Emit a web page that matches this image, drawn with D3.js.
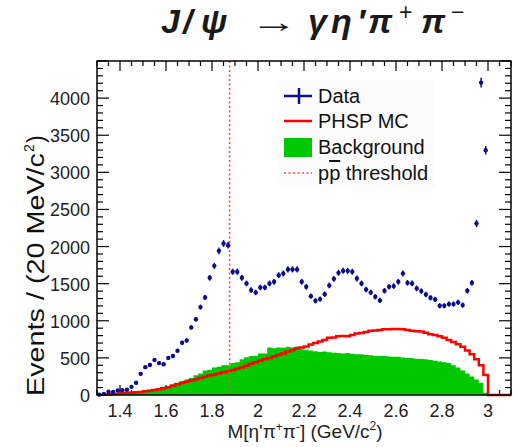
<!DOCTYPE html>
<html>
<head>
<meta charset="utf-8">
<script src="https://cdn.jsdelivr.net/npm/d3@7"></script>
<style>
  body { margin: 0; background: #fff; }
  text { font-family: "Liberation Sans", Arial, sans-serif; }
</style>
</head>
<body>
<svg id="chart"></svg>
<script>
// Chart size
const width = 519;
const height = 447;

// Binning: 20 MeV bins from 1.30 to 3.10 GeV
const binLow = 1.30;
const binWidth = 0.02;

// Data (events per bin, bins 1.31 ... 2.99)
const dataCounts = [
  5, 15, 45, 40, 60, 65, 70, 110, 166, 285,
  375, 405, 473, 430, 415, 500, 525, 597, 704, 735,
  911, 1020, 1184, 1315, 1579, 1740, 1942, 2042, 2019, 1660,
  1660, 1579, 1503, 1413, 1382, 1449, 1449, 1503, 1525, 1615,
  1638, 1692, 1692, 1692, 1525, 1458, 1332, 1269, 1292, 1359,
  1476, 1565, 1646, 1673, 1673, 1660, 1570, 1503, 1422, 1382,
  1323, 1274, 1404, 1458, 1467, 1525, 1638, 1511, 1503, 1436,
  1400, 1355, 1310, 1288, 1202, 1202, 1225, 1225, 1248, 1211,
  1404, 1511, 2311, 4209, 3297
];

// Phase space MC (bins 1.31 ... 3.09)
const phspCounts = [
  2, 5, 8, 12, 16, 22, 28, 32, 36, 42,
  50, 58, 66, 78, 90, 105, 125, 145, 160, 180,
  195, 210, 228, 245, 262, 275, 290, 305, 315, 335,
  355, 372, 395, 420, 440, 460, 482, 500, 520, 540,
  560, 585, 605, 625, 640, 655, 680, 700, 720, 740,
  770, 775, 790, 795, 790, 810, 830, 835, 850, 865,
  870, 875, 885, 885, 890, 890, 885, 875, 865, 860,
  855, 840, 820, 810, 790, 770, 740, 715, 685, 650,
  600, 550, 480, 400, 270, 0, 0, 0, 0, 0
];

// Background (bins 1.31 ... 3.09)
const bkgCounts = [
  0, 0, 5, 15, 25, 40, 45, 40, 35, 55,
  60, 70, 75, 95, 110, 115, 145, 160, 190, 210,
  230, 265, 290, 330, 340, 370, 380, 400, 400, 430,
  440, 480, 510, 525, 530, 560, 560, 640, 630, 640,
  635, 650, 640, 655, 615, 610, 600, 590, 580, 585,
  575, 570, 565, 560, 565, 555, 550, 550, 540, 535,
  530, 525, 525, 520, 515, 515, 505, 500, 500, 490,
  485, 480, 470, 460, 450, 440, 430, 400, 370, 330,
  290, 250, 210, 160, 30, 0, 0, 0, 0, 0
];

// Axis ticks and labels
const xTicks = [1.4, 1.6, 1.8, 2.0, 2.2, 2.4, 2.6, 2.8, 3.0];
const xTickLabels = ["1.4", "1.6", "1.8", "2", "2.2", "2.4", "2.6", "2.8", "3"];
const yTicks = [0, 500, 1000, 1500, 2000, 2500, 3000, 3500, 4000];
const threshold = 2 * 0.938272;

const legendLabels = ["Data", "PHSP MC", "Background", "threshold"];

// Title glyphs: [text, x, size, raised]
const titleGlyphs = [
  ["J", 161, 34, false], ["/", 183, 34, false], ["\u03C8", 201, 34, false],
  ["\u03B3", 308, 34, false], ["\u03B7", 331, 34, false], ["\u2032", 357, 34, false],
  ["\u03C0", 368, 34, false], ["+", 399, 23, true], ["\u03C0", 421, 34, false], ["\u2212", 451, 23, true]
];

// Colors
const blue = "#0c0c8c";
const red = "#ff0000";
const pink = "#ff4a4a";
const green = "#00c800";

const svg = d3.select("#chart")
  .attr("width", width)
  .attr("height", height);

const x = d3.scaleLinear().domain([1.3, 3.1]).range([97, 511]);
const y = d3.scaleLinear().domain([0, 4500]).range([395, 61]);

// Tick marks (drawn first, so the fills cover the bottom ones)
const ticks = svg.append("g").attr("stroke", "#000").attr("stroke-width", 1.2);
const xMinor = d3.range(1.3, 3.1001, 0.05);
xMinor.forEach((v) => {
  const major = xTicks.some((t) => Math.abs(t - v) < 1e-6);
  const len = major ? 10 : 5;
  ticks.append("line").attr("x1", x(v)).attr("x2", x(v)).attr("y1", y.range()[1]).attr("y2", y.range()[1] + len);
  ticks.append("line").attr("x1", x(v)).attr("x2", x(v)).attr("y1", y.range()[0]).attr("y2", y.range()[0] - len);
});
const yMinor = d3.range(0, 4501, 100);
yMinor.forEach((v) => {
  const major = v % 500 === 0;
  const len = major ? 12 : 6;
  ticks.append("line").attr("x1", x.range()[0]).attr("x2", x.range()[0] + len).attr("y1", y(v)).attr("y2", y(v));
  ticks.append("line").attr("x1", x.range()[1]).attr("x2", x.range()[1] - len).attr("y1", y(v)).attr("y2", y(v));
});

// Histogram helpers
const binEdges = (counts) => {
  const pts = counts.map((c, i) => [binLow + i * binWidth, c]);
  pts.push([binLow + counts.length * binWidth, counts[counts.length - 1]]);
  return pts;
};

const area = d3.area()
  .curve(d3.curveStepAfter)
  .x((d) => x(d[0]))
  .y0(y(0))
  .y1((d) => y(d[1]));

const line = d3.line()
  .curve(d3.curveStepAfter)
  .x((d) => x(d[0]))
  .y((d) => y(d[1]));

// Background fill
svg.append("path")
  .datum(binEdges(bkgCounts))
  .attr("d", area)
  .attr("fill", green);

// PHSP MC outline
svg.append("path")
  .datum(binEdges(phspCounts))
  .attr("d", line)
  .attr("fill", "none")
  .attr("stroke", red)
  .attr("stroke-width", 2.5);

// Threshold line
svg.append("line")
  .attr("x1", x(threshold)).attr("x2", x(threshold))
  .attr("y1", y.range()[1]).attr("y2", y.range()[0])
  .attr("stroke", pink)
  .attr("stroke-width", 1.6)
  .attr("stroke-dasharray", "2,2.5");

// Data points with sqrt(N) error bars
const points = dataCounts.map((c, i) => ({ m: binLow + (i + 0.5) * binWidth, n: c }));
const dataG = svg.append("g");
dataG.selectAll("line")
  .data(points)
  .enter().append("line")
  .attr("x1", (d) => x(d.m)).attr("x2", (d) => x(d.m))
  .attr("y1", (d) => y(d.n + Math.sqrt(d.n))).attr("y2", (d) => y(d.n - Math.sqrt(d.n)))
  .attr("stroke", blue)
  .attr("stroke-width", 1.5);
dataG.selectAll("circle")
  .data(points)
  .enter().append("circle")
  .attr("cx", (d) => x(d.m))
  .attr("cy", (d) => y(d.n))
  .attr("r", 2.2)
  .attr("fill", blue);

// Frame
svg.append("rect")
  .attr("x", x.range()[0]).attr("y", y.range()[1])
  .attr("width", x.range()[1] - x.range()[0])
  .attr("height", y.range()[0] - y.range()[1])
  .attr("fill", "none")
  .attr("stroke", "#000")
  .attr("stroke-width", 1.5);

// Tick labels
svg.append("g").selectAll("text")
  .data(xTicks)
  .enter().append("text")
  .attr("x", (d) => x(d))
  .attr("y", 417)
  .attr("text-anchor", "middle")
  .attr("font-size", 18)
  .attr("fill", "#222")
  .text((d, i) => xTickLabels[i]);

svg.append("g").selectAll("text")
  .data(yTicks)
  .enter().append("text")
  .attr("x", 90)
  .attr("y", (d) => y(d) + 7)
  .attr("text-anchor", "end")
  .attr("font-size", 18)
  .attr("fill", "#222")
  .text((d) => d);

// Axis titles
const xTitle = svg.append("text")
  .attr("x", 305)
  .attr("y", 438)
  .attr("text-anchor", "middle")
  .attr("font-size", 19)
  .attr("fill", "#222");
xTitle.append("tspan").text("M[\u03B7'\u03C0");
xTitle.append("tspan").attr("font-size", 12).attr("dy", -7).text("+");
xTitle.append("tspan").attr("dy", 7).text("\u03C0");
xTitle.append("tspan").attr("font-size", 12).attr("dy", -7).text("-");
xTitle.append("tspan").attr("dy", 7).text("] (GeV/c");
xTitle.append("tspan").attr("font-size", 12).attr("dy", -8).text("2");
xTitle.append("tspan").attr("dy", 8).text(")");

const yTitle = svg.append("g").attr("transform", "translate(44,396) rotate(-90)");
yTitle.append("text")
  .attr("x", 0).attr("y", 0)
  .attr("font-size", 23)
  .attr("fill", "#111")
  .attr("textLength", 243)
  .attr("lengthAdjust", "spacingAndGlyphs")
  .text("Events / (20 MeV/c");
yTitle.append("text")
  .attr("x", 244).attr("y", -10)
  .attr("font-size", 14)
  .attr("fill", "#111")
  .text("2");
yTitle.append("text")
  .attr("x", 253).attr("y", 0)
  .attr("font-size", 23)
  .attr("fill", "#111")
  .text(")");

// Title, each glyph placed like the typeset formula
const titleG = svg.append("g")
  .style("font-family", "'DejaVu Serif', 'Liberation Serif', serif")
  .attr("fill", "#1a1a1a");
titleG.selectAll("text.glyph")
  .data(titleGlyphs)
  .enter().append("text")
  .attr("class", "glyph")
  .attr("x", (d) => d[1])
  .attr("y", (d) => (d[3] ? 20 : 33))
  .attr("font-size", (d) => d[2])
  .attr("font-style", (d) => (d[3] ? "normal" : "italic"))
  .attr("font-weight", (d) => (d[3] ? "normal" : "bold"))
  .text((d) => d[0]);
// Long arrow
titleG.append("text")
  .attr("transform", "translate(250,32) scale(1.6,1)")
  .attr("font-size", 30)
  .text("\u2192");

// Legend
const legend = svg.append("g");
legend.append("rect")
  .attr("x", 279).attr("y", 80)
  .attr("width", 156).attr("height", 108)
  .attr("fill", "#fcfcfc");

const rowY = [96, 121, 147, 173];
const symX0 = 284, symX1 = 312;

legend.append("line").attr("x1", symX0).attr("x2", symX1).attr("y1", rowY[0]).attr("y2", rowY[0])
  .attr("stroke", blue).attr("stroke-width", 2.5);
legend.append("line").attr("x1", 299).attr("x2", 299).attr("y1", rowY[0] - 8).attr("y2", rowY[0] + 8)
  .attr("stroke", blue).attr("stroke-width", 2.5);
legend.append("line").attr("x1", symX0).attr("x2", symX1).attr("y1", rowY[1]).attr("y2", rowY[1])
  .attr("stroke", red).attr("stroke-width", 2.5);
legend.append("rect").attr("x", symX0).attr("y", rowY[2] - 9).attr("width", symX1 - symX0).attr("height", 19)
  .attr("fill", green);
legend.append("line").attr("x1", symX0).attr("x2", symX1).attr("y1", rowY[3]).attr("y2", rowY[3])
  .attr("stroke", pink).attr("stroke-width", 1.6).attr("stroke-dasharray", "2,2.5");

legendLabels.slice(0, 3).forEach((label, i) => {
  legend.append("text")
    .attr("x", 318).attr("y", rowY[i] + 7)
    .attr("font-size", 20)
    .attr("fill", "#111")
    .text(label);
});
const thrText = legend.append("text")
  .attr("x", 318).attr("y", rowY[3] + 7)
  .attr("font-size", 20)
  .attr("fill", "#111");
thrText.append("tspan").text("p");
thrText.append("tspan").style("text-decoration", "overline").text("p");
thrText.append("tspan").text(" " + legendLabels[3]);
</script>
</body>
</html>
